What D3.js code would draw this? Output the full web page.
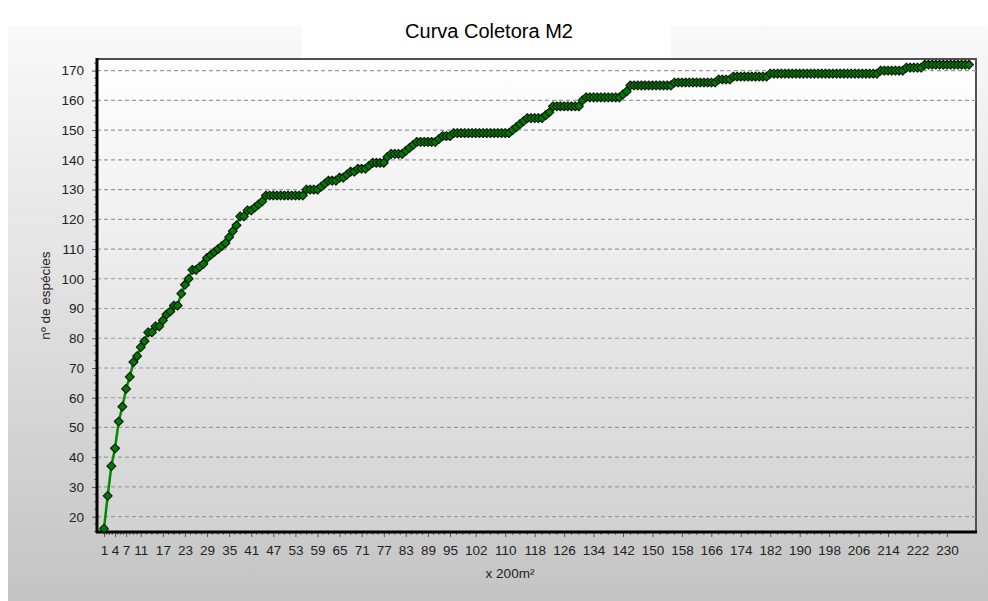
<!DOCTYPE html>
<html>
<head>
<meta charset="utf-8">
<title>Curva Coletora M2</title>
<script src="https://cdn.jsdelivr.net/npm/d3@7"></script>
<style>
  html, body { margin: 0; padding: 0; background: #fff; }
  svg { display: block; font-family: Arial, 'Liberation Sans', sans-serif; }
</style>
</head>
<body>
<div id="chart"></div>
<script>
const chartTitle = 'Curva Coletora M2';
const yTitle = 'nº de espécies';
const xTitle = 'x 200m²';

// cumulative species count per 200 m2 sample
const species = [
  16, 27, 37, 43, 52, 57, 63, 67, 72, 74, 77, 79, 82, 82, 84, 84, 86, 88, 89, 91,
  91, 95, 98, 100, 103, 103, 104, 105, 107, 108, 109, 110, 111, 112, 114, 116, 118, 121, 121, 123,
  123, 124, 125, 126, 128, 128, 128, 128, 128, 128, 128, 128, 128, 128, 128, 130, 130, 130, 130, 131,
  132, 133, 133, 133, 134, 134, 135, 136, 136, 137, 137, 137, 138, 139, 139, 139, 139, 141, 142, 142,
  142, 142, 143, 144, 145, 146, 146, 146, 146, 146, 146, 147, 148, 148, 148, 149, 149, 149, 149, 149,
  149, 149, 149, 149, 149, 149, 149, 149, 149, 149, 149, 150, 151, 152, 153, 154, 154, 154, 154, 154,
  155, 156, 158, 158, 158, 158, 158, 158, 158, 158, 160, 161, 161, 161, 161, 161, 161, 161, 161, 161,
  161, 162, 163, 165, 165, 165, 165, 165, 165, 165, 165, 165, 165, 165, 165, 166, 166, 166, 166, 166,
  166, 166, 166, 166, 166, 166, 166, 167, 167, 167, 167, 168, 168, 168, 168, 168, 168, 168, 168, 168,
  168, 169, 169, 169, 169, 169, 169, 169, 169, 169, 169, 169, 169, 169, 169, 169, 169, 169, 169, 169,
  169, 169, 169, 169, 169, 169, 169, 169, 169, 169, 169, 170, 170, 170, 170, 170, 170, 170, 171, 171,
  171, 171, 171, 172, 172, 172, 172, 172, 172, 172, 172, 172, 172, 172, 172, 172
];

const xTickLabels = [1, 4, 7, 11, 17, 23, 29, 35, 41, 47, 53, 59, 65, 71, 77, 83, 89, 95,
  102, 110, 118, 126, 134, 142, 150, 158, 166, 174, 182, 190, 198, 206, 214, 222, 230];
const yTickValues = [20, 30, 40, 50, 60, 70, 80, 90, 100, 110, 120, 130, 140, 150, 160, 170];

const width = 988;
const height = 601;
const plot = { left: 97, top: 59, right: 976, bottom: 532 };
const xPad = 1.9; // categories of empty space either side
const yDomain = [14.85, 173.9];

const svg = d3.select('#chart').append('svg')
  .attr('width', width)
  .attr('height', height);

const defs = svg.append('defs');
function addGradient(id, top, bottom) {
  const g = defs.append('linearGradient')
    .attr('id', id)
    .attr('x1', 0).attr('y1', 0)
    .attr('x2', 0).attr('y2', 1);
  g.append('stop').attr('offset', '0%').attr('stop-color', top);
  g.append('stop').attr('offset', '100%').attr('stop-color', bottom);
}
addGradient('panelGrad', '#f9f9f9', '#c4c4c4');
addGradient('plotGrad', '#ffffff', '#d2d2d2');

// outer panel + white title box
svg.append('rect')
  .attr('x', 8).attr('y', 25)
  .attr('width', width - 8).attr('height', height - 25)
  .attr('fill', 'url(#panelGrad)');
svg.append('rect')
  .attr('x', 302).attr('y', 0)
  .attr('width', 369).attr('height', plot.top)
  .attr('fill', '#fff');

svg.append('text')
  .attr('x', 489).attr('y', 38)
  .attr('text-anchor', 'middle')
  .attr('font-size', 20)
  .attr('fill', '#000')
  .text(chartTitle);

const xScale = d3.scaleLinear()
  .domain([1 - xPad, species.length + xPad])
  .range([plot.left, plot.right]);
const yScale = d3.scaleLinear()
  .domain(yDomain)
  .range([plot.bottom, plot.top]);

svg.append('rect')
  .attr('x', plot.left).attr('y', plot.top)
  .attr('width', plot.right - plot.left).attr('height', plot.bottom - plot.top)
  .attr('fill', 'url(#plotGrad)')
  .attr('stroke', '#505050')
  .attr('stroke-width', 2);

// horizontal dashed grid
svg.append('g')
  .selectAll('line')
  .data(yTickValues)
  .join('line')
  .attr('x1', plot.left).attr('x2', plot.right)
  .attr('y1', d => yScale(d)).attr('y2', d => yScale(d))
  .attr('stroke', '#9a9a9a')
  .attr('stroke-width', 1.2)
  .attr('stroke-dasharray', '4,3');

// minor ticks: 3 between each pair of labelled ticks
function minorTicks(values) {
  const out = [];
  for (let i = 0; i < values.length - 1; i++) {
    const step = (values[i + 1] - values[i]) / 4;
    for (let k = 1; k < 4; k++) out.push(values[i] + k * step);
  }
  return out;
}

const xAxis = svg.append('g')
  .attr('transform', `translate(0,${plot.bottom})`)
  .call(d3.axisBottom(xScale).tickValues(xTickLabels).tickSize(5).tickPadding(8).tickSizeOuter(0));
xAxis.append('g')
  .selectAll('line')
  .data(minorTicks(xTickLabels))
  .join('line')
  .attr('x1', d => xScale(d)).attr('x2', d => xScale(d))
  .attr('y1', 0).attr('y2', 3)
  .attr('stroke', '#666');

const yAxis = svg.append('g')
  .attr('transform', `translate(${plot.left},0)`)
  .call(d3.axisLeft(yScale).tickValues(yTickValues).tickSize(5).tickPadding(8).tickSizeOuter(0));
yAxis.append('g')
  .selectAll('line')
  .data(minorTicks([yTickValues[0] - 10].concat(yTickValues, [180])).filter(v => v > yDomain[0] && v < yDomain[1]))
  .join('line')
  .attr('y1', d => yScale(d)).attr('y2', d => yScale(d))
  .attr('x1', 0).attr('x2', -3)
  .attr('stroke', '#666');

[xAxis, yAxis].forEach(a => {
  a.select('.domain').remove();
  a.selectAll('.tick line').attr('stroke', '#555');
  a.selectAll('.tick text')
    .attr('font-size', 13.5)
    .attr('font-family', 'Arial, Liberation Sans, sans-serif')
    .attr('fill', '#222');
});

// thick black axis lines
svg.append('line')
  .attr('x1', plot.left).attr('x2', plot.left)
  .attr('y1', plot.top - 1).attr('y2', plot.bottom + 1)
  .attr('stroke', '#000').attr('stroke-width', 3);
svg.append('line')
  .attr('x1', plot.left - 1).attr('x2', plot.right + 1)
  .attr('y1', plot.bottom).attr('y2', plot.bottom)
  .attr('stroke', '#000').attr('stroke-width', 3);

svg.append('text')
  .attr('transform', `translate(50,${(plot.top + plot.bottom) / 2}) rotate(-90)`)
  .attr('text-anchor', 'middle')
  .attr('font-size', 13.5)
  .attr('fill', '#222')
  .text(yTitle);
svg.append('text')
  .attr('x', 510).attr('y', 578)
  .attr('text-anchor', 'middle')
  .attr('font-size', 13.5)
  .attr('fill', '#222')
  .text(xTitle);

// the series
const line = d3.line()
  .x((d, i) => xScale(i + 1))
  .y(d => yScale(d));
svg.append('path')
  .datum(species)
  .attr('fill', 'none')
  .attr('stroke', '#008a00')
  .attr('stroke-width', 2.5)
  .attr('stroke-linejoin', 'round')
  .attr('d', line);

const marker = d3.symbol().type(d3.symbolDiamond2).size(50);
svg.append('g')
  .selectAll('path')
  .data(species)
  .join('path')
  .attr('transform', (d, i) => `translate(${xScale(i + 1)},${yScale(d)})`)
  .attr('d', marker)
  .attr('fill', '#007a00')
  .attr('stroke', '#0d200d')
  .attr('stroke-width', 1.2)
  .attr('stroke-linejoin', 'round');
</script>
</body>
</html>
